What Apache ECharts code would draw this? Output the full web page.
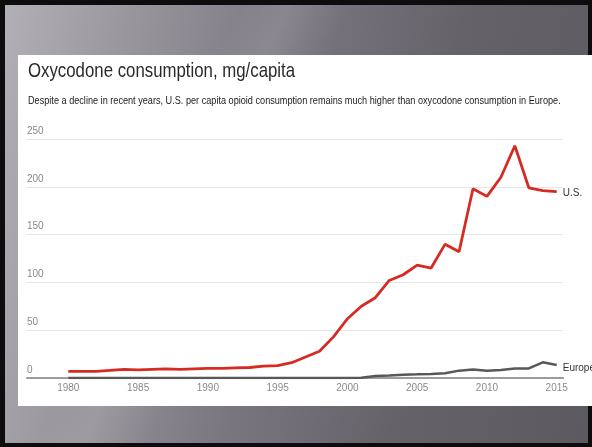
<!DOCTYPE html>
<html>
<head>
<meta charset="utf-8">
<script src="https://cdn.jsdelivr.net/npm/echarts@6/dist/echarts.min.js"></script>
<style>
  html, body { margin: 0; padding: 0; }
  body { width: 592px; height: 447px; background: #0d0d0d; position: relative; overflow: hidden; }
  #slide {
    position: absolute; left: 5px; top: 5px; width: 583px; height: 438px;
    background:
      linear-gradient(115deg, rgba(255,255,255,0) 30%, rgba(255,255,255,0.10) 36%, rgba(255,255,255,0) 44%),
      linear-gradient(100deg, #b3afb6 0%, #96929a 22%, #7a7680 45%, #66626a 70%, #5d5961 100%);
  }
  #panel { position: absolute; left: 18px; top: 55px; width: 574px; height: 351px; background: #fff; }
  #chart { position: absolute; left: 0; top: 0; width: 592px; height: 447px; }
</style>
</head>
<body>
<div id="slide"></div>
<div id="panel"></div>
<div id="chart"></div>
<script>
// Oxycodone consumption per capita, 1980-2015
const years = [1980,1981,1982,1983,1984,1985,1986,1987,1988,1989,
               1990,1991,1992,1993,1994,1995,1996,1997,1998,1999,
               2000,2001,2002,2003,2004,2005,2006,2007,2008,2009,
               2010,2011,2012,2013,2014,2015];
const usValues = [7,7,7,8,9,8.5,9,9.5,9,9.5,
                  10,10,10.5,11,12.5,13,16,22,28,43,
                  62,75,84,102,108,118,115,140,132,198,
                  190,210,243,199,196,195];
const europeValues = [0,0,0,0,0,0,0,0,0,0,
                      0,0,0,0,0,0,0,0,0,0,
                      0,0.3,2,2.5,3.5,3.8,4.2,5,7.7,9,
                      7.7,8.4,10,10,16.4,13.6];
const xTickLabels = [1980,1985,1990,1995,2000,2005,2010,2015];
const yTickLabels = [0,50,100,150,200,250];
const titleText = 'Oxycodone consumption, mg/capita';
const subtitleText = 'Despite a decline in recent years, U.S. per capita opioid consumption remains much higher than oxycodone consumption in Europe.';

const pairs = vals => years.map((y, i) => [y, vals[i]]);
const sans = '"Liberation Sans", Arial, sans-serif';

const chart = echarts.init(document.getElementById('chart'), null, { renderer: 'canvas' });
chart.setOption({
  backgroundColor: 'transparent',
  animation: false,
  // Headline and deck set in a condensed style
  graphic: [
    {
      type: 'text', x: 28, y: 71, scaleX: 0.8,
      style: { text: titleText, font: '21px ' + sans, fill: '#2a2a2a', verticalAlign: 'middle' }
    },
    {
      type: 'text', x: 28, y: 101, scaleX: 0.87,
      style: { text: subtitleText, font: '10.5px ' + sans, fill: '#1a1a1a', verticalAlign: 'middle' }
    }
  ],
  grid: { left: 27, right: 29, top: 139, bottom: 69 },
  xAxis: {
    type: 'value', min: 1977.04, max: 2015.45,
    axisLine: { show: true, lineStyle: { color: '#9c9c9c', width: 2 } },
    axisTick: { show: false },
    splitLine: { show: false },
    axisLabel: {
      customValues: xTickLabels,
      formatter: v => String(v),
      color: '#8a8a8a', fontFamily: sans, fontSize: 10, margin: 5
    }
  },
  yAxis: {
    type: 'value', min: 0, max: 250, interval: 50,
    axisLine: { show: false },
    axisTick: { show: false },
    splitLine: { lineStyle: { color: '#e6e6e6', width: 1 } },
    axisLabel: {
      customValues: yTickLabels,
      inside: true, margin: 0, verticalAlign: 'bottom', padding: [0, 0, 3, 0],
      color: '#8a8a8a', fontFamily: sans, fontSize: 10
    }
  },
  series: [
    {
      name: 'Europe', type: 'line', data: pairs(europeValues),
      symbol: 'none', z: 3,
      lineStyle: { color: '#585858', width: 2.5 },
      endLabel: { show: true, formatter: 'Europe', distance: 6, offset: [0, 3], color: '#333', fontFamily: sans, fontSize: 10 }
    },
    {
      name: 'U.S.', type: 'line', data: pairs(usValues),
      symbol: 'none', z: 4,
      lineStyle: { color: '#d62b22', width: 2.8 },
      endLabel: { show: true, formatter: 'U.S.', distance: 6, offset: [0, 2], color: '#333', fontFamily: sans, fontSize: 10 }
    }
  ]
});
</script>
</body>
</html>
